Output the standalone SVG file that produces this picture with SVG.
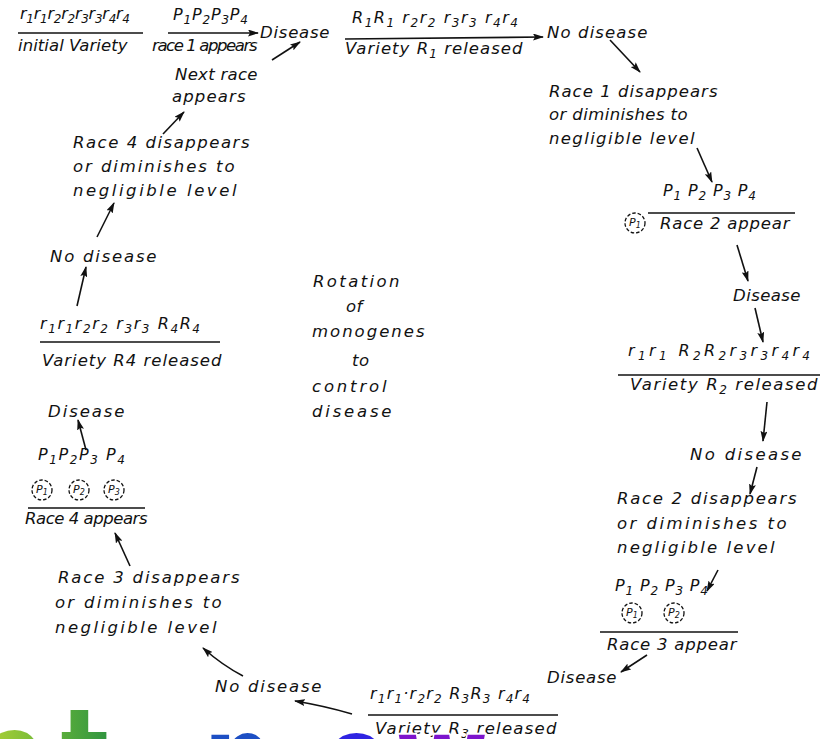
<svg xmlns="http://www.w3.org/2000/svg" width="822" height="739" viewBox="0 0 822 739">
<defs>
<style>
.t{font-family:"DejaVu Sans","Liberation Sans",sans-serif;font-style:italic;font-size:16.5px;fill:#111;letter-spacing:0.5px}
.g{font-family:"DejaVu Sans","Liberation Sans",sans-serif;font-style:italic;font-size:16px;fill:#111}
.sb{font-size:12px}
.cp{font-family:"DejaVu Sans",sans-serif;font-style:italic;font-size:11px;fill:#111}
.bar{stroke:#111;stroke-width:1.6;fill:none}
.dc{fill:none;stroke:#111;stroke-width:1.3;stroke-dasharray:3.5 2}
.c{stroke:#111;stroke-width:1.6;fill:none;marker-end:url(#ah)}
.wm{font-family:"DejaVu Sans",sans-serif;font-weight:bold;font-size:140px;stroke:#fff;stroke-width:4;paint-order:stroke}
</style>
<marker id="ah" markerUnits="userSpaceOnUse" markerWidth="11" markerHeight="7" refX="10" refY="3.5" orient="auto">
<path d="M0,0 L11,3.5 L0,7 L2,3.5 z" fill="#111"/>
</marker>
<linearGradient id="gg" x1="0" y1="0" x2="1" y2="0"><stop offset="0" stop-color="#b5d334"/><stop offset="1" stop-color="#6cb83a"/></linearGradient>
<linearGradient id="gt" x1="0" y1="0" x2="1" y2="0"><stop offset="0" stop-color="#5aad3a"/><stop offset="1" stop-color="#2f9440"/></linearGradient>
</defs>
<rect width="822" height="739" fill="#fff"/>

<g id="connectors">
<line class="c" x1="168" y1="33" x2="258" y2="33"/>
<line class="c" x1="272" y1="60" x2="300" y2="42"/>
<line class="c" x1="163" y1="134" x2="184" y2="112"/>
<line class="c" x1="97" y1="237" x2="114" y2="203"/>
<line class="c" x1="77" y1="306" x2="86" y2="267"/>
<line class="c" x1="345" y1="39" x2="543" y2="37"/>
<line class="c" x1="610" y1="40" x2="640" y2="72"/>
<line class="c" x1="697" y1="148" x2="712" y2="182"/>
<line class="c" x1="737" y1="245" x2="748" y2="281"/>
<line class="c" x1="755" y1="308" x2="763" y2="342"/>
<line class="c" x1="767" y1="402" x2="763" y2="441"/>
<line class="c" x1="757" y1="467" x2="750" y2="494"/>
<line class="c" x1="718" y1="570" x2="707" y2="591"/>
<line class="c" x1="647" y1="655" x2="621" y2="672"/>
<path class="c" d="M352,714 Q325,706 295,701"/>
<path class="c" d="M243,676 Q222,665 203,648"/>
<line class="c" x1="130" y1="566" x2="115" y2="533"/>
<line class="c" x1="86" y1="450" x2="78" y2="420"/>
</g>

<g id="initial-variety">
<text class="g" x="20" y="19" textLength="110">r<tspan class="sb" dy="4">1</tspan><tspan dy="-4">r</tspan><tspan class="sb" dy="4">1</tspan><tspan dy="-4">r</tspan><tspan class="sb" dy="4">2</tspan><tspan dy="-4">r</tspan><tspan class="sb" dy="4">2</tspan><tspan dy="-4">r</tspan><tspan class="sb" dy="4">3</tspan><tspan dy="-4">r</tspan><tspan class="sb" dy="4">3</tspan><tspan dy="-4">r</tspan><tspan class="sb" dy="4">4</tspan><tspan dy="-4">r</tspan><tspan class="sb" dy="4">4</tspan></text>
<line class="bar" x1="18" y1="33" x2="143" y2="33"/>
<text class="t" x="18" y="51" textLength="110">initial Variety</text>
</g>

<g id="race1-appears">
<text class="g" x="173" y="20" textLength="75">P<tspan class="sb" dy="4">1</tspan><tspan dy="-4">P</tspan><tspan class="sb" dy="4">2</tspan><tspan dy="-4">P</tspan><tspan class="sb" dy="4">3</tspan><tspan dy="-4">P</tspan><tspan class="sb" dy="4">4</tspan></text>
<text class="t" x="152" y="51" textLength="106">race 1 appears</text>
</g>

<g id="disease-1">
<text class="t" x="260" y="38" textLength="70">Disease</text>
</g>

<g id="next-race">
<text class="t" x="175" y="80" textLength="83">Next race</text>
<text class="t" x="172" y="102" textLength="74">appears</text>
</g>

<g id="variety-r1">
<text class="g" x="352" y="23" textLength="166">R<tspan class="sb" dy="4">1</tspan><tspan dy="-4">R</tspan><tspan class="sb" dy="4">1</tspan><tspan dy="-4"> r</tspan><tspan class="sb" dy="4">2</tspan><tspan dy="-4">r</tspan><tspan class="sb" dy="4">2</tspan><tspan dy="-4"> r</tspan><tspan class="sb" dy="4">3</tspan><tspan dy="-4">r</tspan><tspan class="sb" dy="4">3</tspan><tspan dy="-4"> r</tspan><tspan class="sb" dy="4">4</tspan><tspan dy="-4">r</tspan><tspan class="sb" dy="4">4</tspan></text>
<text class="t" x="345" y="54" textLength="178">Variety R<tspan class="sb" dy="4">1</tspan><tspan dy="-4"> released</tspan></text>
</g>

<g id="no-disease-1">
<text class="t" x="547" y="38" textLength="101">No disease</text>
</g>

<g id="race1-disappears">
<text class="t" x="549" y="97" textLength="169">Race 1 disappears</text>
<text class="t" x="549" y="120" textLength="139">or diminishes to</text>
<text class="t" x="549" y="144" textLength="146">negligible level</text>
</g>

<g id="race2-appear">
<text class="g" x="663" y="196" textLength="93">P<tspan class="sb" dy="4">1</tspan><tspan dy="-4"> P</tspan><tspan class="sb" dy="4">2</tspan><tspan dy="-4"> P</tspan><tspan class="sb" dy="4">3</tspan><tspan dy="-4"> P</tspan><tspan class="sb" dy="4">4</tspan></text>
<line class="bar" x1="648" y1="213" x2="795" y2="213"/>
<circle class="dc" cx="635" cy="223" r="10"/>
<text class="cp" x="629" y="226">P<tspan font-size="8" dy="2">1</tspan></text>
<text class="t" x="660" y="229" textLength="130">Race 2 appear</text>
</g>

<g id="disease-2">
<text class="t" x="733" y="301" textLength="68">Disease</text>
</g>

<g id="variety-r2">
<text class="g" x="628" y="356" textLength="182">r<tspan class="sb" dy="4">1</tspan><tspan dy="-4">r</tspan><tspan class="sb" dy="4">1</tspan><tspan dy="-4"> R</tspan><tspan class="sb" dy="4">2</tspan><tspan dy="-4">R</tspan><tspan class="sb" dy="4">2</tspan><tspan dy="-4">r</tspan><tspan class="sb" dy="4">3</tspan><tspan dy="-4">r</tspan><tspan class="sb" dy="4">3</tspan><tspan dy="-4">r</tspan><tspan class="sb" dy="4">4</tspan><tspan dy="-4">r</tspan><tspan class="sb" dy="4">4</tspan></text>
<line class="bar" x1="618" y1="375" x2="820" y2="375"/>
<text class="t" x="630" y="390" textLength="188">Variety R<tspan class="sb" dy="4">2</tspan><tspan dy="-4"> released</tspan></text>
</g>

<g id="no-disease-2">
<text class="t" x="690" y="460" textLength="112">No disease</text>
</g>

<g id="race2-disappears">
<text class="t" x="617" y="504" textLength="180">Race 2 disappears</text>
<text class="t" x="617" y="529" textLength="170">or diminishes to</text>
<text class="t" x="617" y="553" textLength="158">negligible level</text>
</g>

<g id="race3-appear">
<text class="g" x="615" y="591" textLength="93">P<tspan class="sb" dy="4">1</tspan><tspan dy="-4"> P</tspan><tspan class="sb" dy="4">2</tspan><tspan dy="-4"> P</tspan><tspan class="sb" dy="4">3</tspan><tspan dy="-4"> P</tspan><tspan class="sb" dy="4">4</tspan></text>
<circle class="dc" cx="632" cy="613" r="10"/>
<text class="cp" x="626" y="616">P<tspan font-size="8" dy="2">1</tspan></text>
<circle class="dc" cx="674" cy="613" r="10"/>
<text class="cp" x="668" y="616">P<tspan font-size="8" dy="2">2</tspan></text>
<line class="bar" x1="600" y1="632" x2="738" y2="632"/>
<text class="t" x="607" y="650" textLength="130">Race 3 appear</text>
</g>

<g id="disease-3">
<text class="t" x="547" y="683" textLength="70">Disease</text>
</g>

<g id="variety-r3">
<text class="g" x="370" y="699" textLength="160">r<tspan class="sb" dy="4">1</tspan><tspan dy="-4">r</tspan><tspan class="sb" dy="4">1</tspan><tspan dy="-4">·r</tspan><tspan class="sb" dy="4">2</tspan><tspan dy="-4">r</tspan><tspan class="sb" dy="4">2</tspan><tspan dy="-4"> R</tspan><tspan class="sb" dy="4">3</tspan><tspan dy="-4">R</tspan><tspan class="sb" dy="4">3</tspan><tspan dy="-4"> r</tspan><tspan class="sb" dy="4">4</tspan><tspan dy="-4">r</tspan><tspan class="sb" dy="4">4</tspan></text>
<line class="bar" x1="368" y1="715" x2="558" y2="715"/>
<text class="t" x="375" y="734" textLength="182">Variety R<tspan class="sb" dy="4">3</tspan><tspan dy="-4"> released</tspan></text>
</g>

<g id="no-disease-3">
<text class="t" x="215" y="692" textLength="107">No disease</text>
</g>

<g id="race3-disappears">
<text class="t" x="58" y="583" textLength="182">Race 3 disappears</text>
<text class="t" x="55" y="608" textLength="167">or diminishes to</text>
<text class="t" x="55" y="633" textLength="162">negligible level</text>
</g>

<g id="race4-appears">
<text class="g" x="38" y="460" textLength="87">P<tspan class="sb" dy="4">1</tspan><tspan dy="-4">P</tspan><tspan class="sb" dy="4">2</tspan><tspan dy="-4">P</tspan><tspan class="sb" dy="4">3</tspan><tspan dy="-4"> P</tspan><tspan class="sb" dy="4">4</tspan></text>
<circle class="dc" cx="42" cy="490" r="10"/>
<text class="cp" x="36" y="493">P<tspan font-size="8" dy="2">1</tspan></text>
<circle class="dc" cx="79" cy="490" r="10"/>
<text class="cp" x="73" y="493">P<tspan font-size="8" dy="2">2</tspan></text>
<circle class="dc" cx="114" cy="490" r="10"/>
<text class="cp" x="108" y="493">P<tspan font-size="8" dy="2">3</tspan></text>
<line class="bar" x1="28" y1="508" x2="145" y2="508"/>
<text class="t" x="25" y="524" textLength="123">Race 4 appears</text>
</g>

<g id="disease-4">
<text class="t" x="48" y="417" textLength="77">Disease</text>
</g>

<g id="variety-r4">
<text class="g" x="40" y="329" textLength="160">r<tspan class="sb" dy="4">1</tspan><tspan dy="-4">r</tspan><tspan class="sb" dy="4">1</tspan><tspan dy="-4">r</tspan><tspan class="sb" dy="4">2</tspan><tspan dy="-4">r</tspan><tspan class="sb" dy="4">2</tspan><tspan dy="-4"> r</tspan><tspan class="sb" dy="4">3</tspan><tspan dy="-4">r</tspan><tspan class="sb" dy="4">3</tspan><tspan dy="-4"> R</tspan><tspan class="sb" dy="4">4</tspan><tspan dy="-4">R</tspan><tspan class="sb" dy="4">4</tspan></text>
<line class="bar" x1="40" y1="342" x2="220" y2="342"/>
<text class="t" x="42" y="366" textLength="180">Variety R4 released</text>
</g>

<g id="no-disease-4">
<text class="t" x="50" y="262" textLength="107">No disease</text>
</g>

<g id="race4-disappears">
<text class="t" x="73" y="148" textLength="177">Race 4 disappears</text>
<text class="t" x="73" y="172" textLength="162">or diminishes to</text>
<text class="t" x="73" y="196" textLength="164">negligible level</text>
</g>

<g id="center-title">
<text class="t" x="313" y="287" textLength="87">Rotation</text>
<text class="t" x="346" y="312">of</text>
<text class="t" x="312" y="337" textLength="113">monogenes</text>
<text class="t" x="352" y="366">to</text>
<text class="t" x="312" y="392" textLength="75">control</text>
<text class="t" x="312" y="417" textLength="80">disease</text>
</g>

<!-- watermark fragments (drawn over the bottom text as in the picture) -->
<g id="watermark" transform="scale(0.72,1)">
<text class="wm" x="-28" y="809" fill="url(#gg)">e</text>
<text class="wm" x="84" y="809" fill="url(#gt)">t</text>
<text class="wm" x="282" y="812" fill="#1d4fc4">n</text>
<text class="wm" x="447" y="812" fill="#2f24e2">o</text>
<text class="wm" x="549" y="812" fill="#7d14cc">w</text>
</g>
</svg>
